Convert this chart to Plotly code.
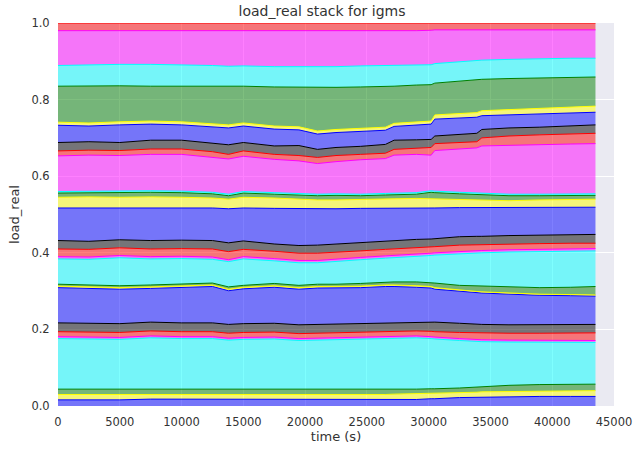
import numpy as np
import plotly.graph_objects as go

# sample times (s)
time_s = [0, 2500, 5000, 7500, 10000, 12500, 13800, 15000, 17500, 19500, 21000, 22500,
          24500, 26500, 27200, 29000, 30200, 30500, 32500, 33900, 34300, 36500, 39000,
          41500, 43500]

# cumulative load_real at the top of each stacked component (bottom to top)
top_01 = [0.016, 0.016, 0.016, 0.018, 0.018, 0.017, 0.017, 0.017, 0.017, 0.017, 0.017, 0.017, 0.017, 0.017, 0.017, 0.017, 0.019, 0.019, 0.022, 0.023, 0.023, 0.024, 0.025, 0.025, 0.025]
top_02 = [0.030, 0.030, 0.030, 0.030, 0.030, 0.029, 0.029, 0.029, 0.029, 0.029, 0.029, 0.029, 0.029, 0.030, 0.031, 0.032, 0.033, 0.033, 0.035, 0.036, 0.037, 0.038, 0.039, 0.040, 0.040]
top_03 = [0.044, 0.044, 0.044, 0.044, 0.044, 0.043, 0.043, 0.043, 0.043, 0.043, 0.043, 0.043, 0.044, 0.044, 0.044, 0.044, 0.045, 0.045, 0.047, 0.050, 0.051, 0.054, 0.056, 0.057, 0.057]
top_04 = [0.176, 0.175, 0.174, 0.178, 0.176, 0.176, 0.172, 0.174, 0.175, 0.171, 0.172, 0.174, 0.175, 0.176, 0.177, 0.178, 0.176, 0.175, 0.171, 0.169, 0.168, 0.167, 0.166, 0.166, 0.166]
top_05 = [0.181, 0.180, 0.179, 0.183, 0.181, 0.181, 0.177, 0.179, 0.180, 0.176, 0.177, 0.179, 0.180, 0.181, 0.182, 0.183, 0.181, 0.180, 0.176, 0.174, 0.173, 0.172, 0.171, 0.171, 0.171]
top_06 = [0.194, 0.193, 0.192, 0.196, 0.194, 0.194, 0.190, 0.192, 0.193, 0.189, 0.190, 0.192, 0.193, 0.194, 0.195, 0.196, 0.195, 0.194, 0.192, 0.191, 0.191, 0.190, 0.190, 0.191, 0.191]
top_07 = [0.217, 0.216, 0.215, 0.219, 0.217, 0.217, 0.213, 0.215, 0.216, 0.212, 0.213, 0.215, 0.216, 0.217, 0.218, 0.219, 0.220, 0.219, 0.216, 0.214, 0.213, 0.212, 0.212, 0.213, 0.213]
top_08 = [0.309, 0.307, 0.305, 0.307, 0.309, 0.312, 0.301, 0.306, 0.310, 0.305, 0.308, 0.308, 0.309, 0.312, 0.312, 0.310, 0.308, 0.305, 0.299, 0.296, 0.295, 0.292, 0.289, 0.288, 0.287]
top_09 = [0.313, 0.311, 0.309, 0.311, 0.313, 0.316, 0.305, 0.310, 0.314, 0.309, 0.312, 0.312, 0.313, 0.316, 0.316, 0.314, 0.312, 0.309, 0.302, 0.299, 0.298, 0.295, 0.292, 0.291, 0.290]
top_10 = [0.318, 0.316, 0.314, 0.316, 0.318, 0.321, 0.311, 0.315, 0.320, 0.315, 0.318, 0.318, 0.320, 0.323, 0.324, 0.324, 0.323, 0.321, 0.315, 0.314, 0.314, 0.311, 0.309, 0.310, 0.312]
top_11 = [0.384, 0.383, 0.387, 0.384, 0.385, 0.383, 0.377, 0.384, 0.379, 0.374, 0.374, 0.378, 0.382, 0.386, 0.387, 0.390, 0.393, 0.394, 0.398, 0.399, 0.400, 0.402, 0.403, 0.404, 0.405]
top_12 = [0.390, 0.389, 0.393, 0.390, 0.391, 0.389, 0.382, 0.390, 0.385, 0.380, 0.380, 0.384, 0.388, 0.392, 0.393, 0.396, 0.399, 0.400, 0.404, 0.405, 0.406, 0.408, 0.409, 0.410, 0.411]
top_13 = [0.410, 0.409, 0.413, 0.410, 0.411, 0.410, 0.403, 0.409, 0.404, 0.399, 0.399, 0.401, 0.405, 0.409, 0.410, 0.414, 0.415, 0.416, 0.420, 0.421, 0.422, 0.423, 0.424, 0.425, 0.425]
top_14 = [0.432, 0.430, 0.434, 0.432, 0.433, 0.432, 0.426, 0.431, 0.423, 0.419, 0.420, 0.423, 0.427, 0.430, 0.431, 0.435, 0.436, 0.437, 0.442, 0.443, 0.443, 0.445, 0.446, 0.447, 0.448]
top_15 = [0.517, 0.517, 0.518, 0.517, 0.518, 0.517, 0.515, 0.517, 0.516, 0.515, 0.514, 0.515, 0.516, 0.516, 0.516, 0.517, 0.517, 0.517, 0.518, 0.518, 0.518, 0.518, 0.519, 0.519, 0.519]
top_16 = [0.545, 0.546, 0.545, 0.546, 0.545, 0.543, 0.540, 0.545, 0.543, 0.540, 0.538, 0.538, 0.540, 0.541, 0.541, 0.542, 0.541, 0.541, 0.540, 0.538, 0.537, 0.536, 0.538, 0.540, 0.540]
top_17 = [0.556, 0.557, 0.557, 0.558, 0.557, 0.554, 0.549, 0.556, 0.553, 0.550, 0.549, 0.550, 0.549, 0.551, 0.552, 0.553, 0.558, 0.557, 0.554, 0.552, 0.551, 0.549, 0.549, 0.549, 0.550]
top_18 = [0.560, 0.561, 0.561, 0.562, 0.561, 0.558, 0.553, 0.560, 0.557, 0.554, 0.553, 0.554, 0.553, 0.555, 0.556, 0.557, 0.562, 0.561, 0.558, 0.556, 0.555, 0.553, 0.553, 0.553, 0.554]
top_19 = [0.653, 0.655, 0.654, 0.657, 0.657, 0.650, 0.645, 0.652, 0.644, 0.640, 0.633, 0.638, 0.643, 0.646, 0.655, 0.657, 0.655, 0.667, 0.672, 0.674, 0.679, 0.681, 0.683, 0.684, 0.685]
top_20 = [0.666, 0.668, 0.667, 0.671, 0.671, 0.664, 0.657, 0.666, 0.657, 0.654, 0.649, 0.654, 0.657, 0.660, 0.670, 0.674, 0.675, 0.685, 0.688, 0.690, 0.700, 0.705, 0.708, 0.710, 0.712]
top_21 = [0.688, 0.690, 0.688, 0.694, 0.694, 0.687, 0.682, 0.688, 0.679, 0.680, 0.670, 0.675, 0.678, 0.683, 0.694, 0.695, 0.696, 0.705, 0.708, 0.712, 0.722, 0.726, 0.728, 0.731, 0.734]
top_22 = [0.733, 0.731, 0.734, 0.736, 0.734, 0.729, 0.726, 0.731, 0.723, 0.721, 0.710, 0.714, 0.717, 0.720, 0.730, 0.733, 0.736, 0.749, 0.752, 0.754, 0.758, 0.760, 0.763, 0.764, 0.767]
top_23 = [0.741, 0.739, 0.742, 0.744, 0.742, 0.737, 0.734, 0.739, 0.731, 0.729, 0.718, 0.722, 0.725, 0.728, 0.738, 0.741, 0.744, 0.760, 0.764, 0.766, 0.771, 0.774, 0.777, 0.779, 0.783]
top_24 = [0.835, 0.836, 0.836, 0.835, 0.835, 0.834, 0.834, 0.835, 0.833, 0.832, 0.831, 0.832, 0.833, 0.834, 0.835, 0.838, 0.839, 0.843, 0.848, 0.852, 0.853, 0.855, 0.857, 0.858, 0.859]
top_25 = [0.889, 0.891, 0.892, 0.892, 0.891, 0.889, 0.887, 0.888, 0.886, 0.886, 0.886, 0.886, 0.888, 0.889, 0.890, 0.891, 0.891, 0.894, 0.899, 0.902, 0.903, 0.905, 0.907, 0.908, 0.908]
top_26 = [0.980, 0.980, 0.979, 0.980, 0.980, 0.979, 0.980, 0.980, 0.980, 0.980, 0.980, 0.979, 0.980, 0.980, 0.980, 0.980, 0.981, 0.982, 0.982, 0.982, 0.982, 0.982, 0.982, 0.982, 0.982]
top_27 = [1.000] * len(time_s)

stack_tops = [top_01, top_02, top_03, top_04, top_05, top_06, top_07, top_08, top_09,
              top_10, top_11, top_12, top_13, top_14, top_15, top_16, top_17, top_18,
              top_19, top_20, top_21, top_22, top_23, top_24, top_25, top_26, top_27]

# colour cycle of the components: b, y, g, c, m, r, k
color_cycle = [(0, 0, 255), (255, 255, 0), (0, 128, 0), (0, 255, 255),
               (255, 0, 255), (255, 0, 0), (0, 0, 0)]

# each component's own load is the gap between consecutive stack tops
tops = np.array(stack_tops)
loads = np.diff(np.vstack([np.zeros(len(time_s)), tops]), axis=0)

fig = go.Figure()
for i, load in enumerate(loads):
    r, g, b = color_cycle[i % len(color_cycle)]
    fig.add_trace(go.Scatter(
        x=time_s, y=load, stackgroup="load", mode="lines",
        line=dict(color=f"rgb({r},{g},{b})", width=1),
        fillcolor=f"rgba({r},{g},{b},0.5)",
        showlegend=False, hoverinfo="skip",
    ))

axis_style = dict(showgrid=True, gridcolor="white", gridwidth=1, zeroline=False,
                  showline=False, ticks="outside", ticklen=5,
                  tickcolor="rgba(0,0,0,0)", tickfont=dict(size=11.5, color="#333333"))

fig.update_layout(
    width=644, height=454,
    margin=dict(l=58, r=23, t=23, b=46, pad=0),
    paper_bgcolor="white", plot_bgcolor="#EAEAF2",
    font=dict(family="DejaVu Sans", color="#333333"),
    title=dict(text="load_real stack for igms", x=0.5, xanchor="center",
               y=1 - 11 / 454, yanchor="middle", yref="container",
               font=dict(size=14, color="#333333")),
    xaxis=dict(range=[0, 45000], dtick=5000, tickformat="d",
               title=dict(text="time (s)", font=dict(size=13), standoff=4), **axis_style),
    yaxis=dict(range=[0, 1], dtick=0.2, tickformat=".1f",
               title=dict(text="load_real", font=dict(size=13), standoff=8), **axis_style),
)

fig.write_html("out.html")
